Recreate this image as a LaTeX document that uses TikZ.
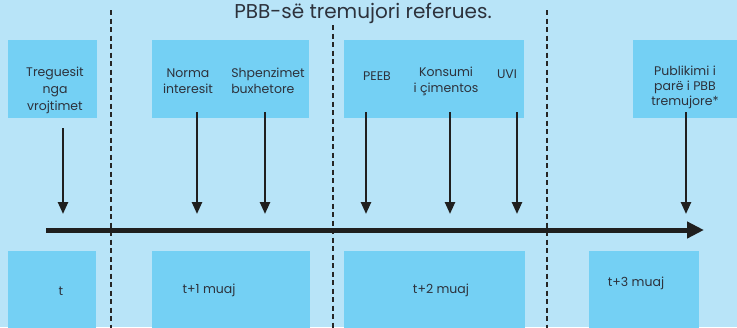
\documentclass[tikz,border=0pt]{standalone}
\usepackage{fontspec}
\setmainfont{Poppins}
\usetikzlibrary{arrows.meta}
\definecolor{bg}{RGB}{184,228,248}
\definecolor{boxc}{RGB}{116,208,244}
\definecolor{txt}{RGB}{45,50,60}
\tikzset{
  box/.style={fill=boxc,draw=none},
  lbl/.style={text=txt,font=\fontsize{12.5}{16}\selectfont,align=center,inner sep=0pt},
  dline/.style={dashed,dash pattern=on 5pt off 3.5pt,line width=1.3pt,draw=black!85},
  downarr/.style={line width=2.4pt,draw=black!88,-{Triangle[width=10pt,length=12pt]}},
  axis/.style={line width=5pt,draw=black!88,-{Triangle[width=16pt,length=17pt]}}
}
\begin{document}
\begin{tikzpicture}[x=1pt,y=-1pt]
\useasboundingbox (0,0) rectangle (737,327);
\clip (0,0) rectangle (737,327);
\fill[bg] (0,0) rectangle (737,327);
% title
\node[text=txt,font=\fontsize{20}{22}\selectfont,anchor=base] (title) at (363,18) {PBB-së tremujori referues.};
% top boxes
\path[box] (8,40) rectangle (97,118);
\path[box] (152,40) rectangle (309,118);
\path[box] (344,40) rectangle (524,118);
\path[box] (633,40) rectangle (737,118);
% bottom boxes
\path[box] (8,251) rectangle (96,330);
\path[box] (152,251) rectangle (310,330);
\path[box] (344,251) rectangle (525,330);
\path[box] (589,251) rectangle (699,330);
% dashed separators
\coordinate (d1a) at (111,10); \coordinate (d1b) at (111,330);
\coordinate (d2a) at (333,25); \coordinate (d2b) at (333,330);
\coordinate (d3a) at (547,10); \coordinate (d3b) at (547,330);
\draw[dline] (d1a) -- (d1b);
\draw[dline] (d2a) -- (d2b);
\draw[dline] (d3a) -- (d3b);
% labels
\node[lbl,font=\fontsize{12.5}{17}\selectfont] (l1) at (55,90) {Treguesit\\nga\\vrojtimet};
\node[lbl] (l2) at (188,81) {Norma\\interesit};
\node[lbl,align=left] (l3) at (268,81) {Shpenzimet\\buxhetore};
\node[lbl] (l4) at (377,76) {PEEB};
\node[lbl] (l5) at (446,81) {Konsumi\\i çimentos};
\node[lbl] (l6) at (507,74) {UVI};
\node[lbl,font=\fontsize{12.5}{15}\selectfont] (l7) at (685,87) {Publikimi i\\parë i PBB\\tremujore*};
\node[lbl] (b1) at (61,291) {t};
\node[lbl] (b2) at (209,290) {t+1 muaj};
\node[lbl] (b3) at (441,290) {t+2 muaj};
\node[lbl] (b4) at (636,283) {t+3 muaj};
% axis
\coordinate (ax0) at (46,230);
\coordinate (ax1) at (704,230);
\draw[axis] (ax0) -- (ax1);
% down arrows
\foreach \n/\x/\y in {1/63/128,2/197/112,3/265/112,4/366/112,5/450/112,6/517/112,7/686/112}{
  \coordinate (s\n) at (\x,\y);
  \coordinate (e\n) at (\x,214);
  \draw[downarr] (s\n) -- (e\n);
}
\end{tikzpicture}
\end{document}
